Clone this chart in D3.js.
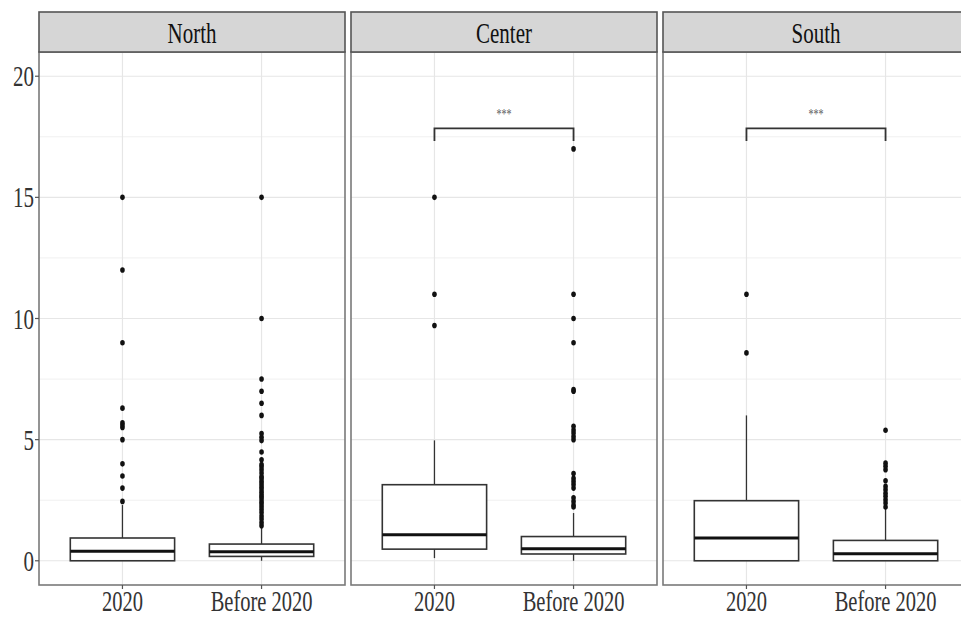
<!DOCTYPE html>
<html><head><meta charset="utf-8">
<script src="https://cdn.jsdelivr.net/npm/d3@7"></script>
<style>html,body{margin:0;padding:0;background:#fff;overflow:hidden}</style>
</head><body>
<script>
// ---------- data ----------
const regions = ["North", "Center", "South"];
const periods = ["2020", "Before 2020"];
const yTicks = [0, 5, 10, 15, 20];
const yMinor = [2.5, 7.5, 12.5, 17.5];
// box statistics [2020, Before 2020] per region
const q1 = [[0, 0.18], [0.48, 0.28], [0, 0]];
const median = [[0.39, 0.37], [1.07, 0.5], [0.94, 0.29]];
const q3 = [[0.94, 0.69], [3.14, 1.0], [2.48, 0.84]];
const whiskerLow = [[0, 0], [0.11, 0], [0, 0]];
const whiskerHigh = [[2.3, 1.42], [4.97, 1.97], [6.0, 2.15]];
const outNorth2020 = [2.45, 3.0, 3.5, 4.0, 5.0, 5.5, 5.6, 5.7, 6.3, 9.0, 12.0, 15.0];
const outNorthBefore = [1.45, 1.58, 1.72, 1.85, 1.99, 2.12, 2.24, 2.35, 2.45, 2.57, 2.66, 2.76, 2.86, 2.97, 3.07, 3.18, 3.28, 3.4, 3.48, 3.62, 3.76, 3.88, 3.97, 4.17, 4.49, 4.96, 5.1, 5.25, 6.0, 6.5, 7.0, 7.5, 10.0, 15.0];
const outCenter2020 = [9.71, 11.0, 15.0];
const outCenterBefore = [2.22, 2.3, 2.45, 2.6, 3.0, 3.15, 3.27, 3.4, 3.6, 5.0, 5.13, 5.27, 5.4, 5.55, 7.0, 7.07, 9.0, 10.0, 11.0, 17.0];
const outSouth2020 = [8.58, 11.0];
const outSouthBefore = [2.22, 2.38, 2.52, 2.66, 2.79, 2.93, 3.07, 3.3, 3.76, 3.9, 4.03, 5.39];
const outliers = [[outNorth2020, outNorthBefore], [outCenter2020, outCenterBefore], [outSouth2020, outSouthBefore]];
const sigRegions = ["Center", "South"];
const sigLabel = "***";
const bracketTop = 17.85;
const bracketLeg = 17.33;
const sigTextY = 18.4;

// ---------- layout ----------
const W = 961, H = 618;
const panelLeft = 39, panelW = 306, gap = 6;
const stripTop = 12, stripBottom = 52, panelBottom = 585;
const FONT = "'Liberation Serif','Times New Roman',serif";
const SY = 1.42;

const svg = d3.select("body").append("svg").attr("width", W).attr("height", H)
  .style("font-family", FONT);

const y = d3.scaleLinear().domain([-1, 21]).range([panelBottom, stripBottom]);

function stext(g, x, yy, str, size, anchor, color) {
  g.append("text").attr("transform", `translate(${x},${yy}) scale(1,${SY})`)
    .attr("text-anchor", anchor).attr("font-size", size).attr("fill", color || "#222").text(str);
}

regions.forEach((reg, ri) => {
  const x0 = panelLeft + ri * (panelW + gap);
  const x = d3.scalePoint().domain(periods).range([x0, x0 + panelW]).padding(0.6);
  const bw = x.step() * 0.75;
  const g = svg.append("g");

  // grid
  g.selectAll(".gmin").data(yMinor).join("line")
    .attr("x1", x0).attr("x2", x0 + panelW).attr("y1", d => y(d)).attr("y2", d => y(d))
    .attr("stroke", "#f0f0f0").attr("stroke-width", 1);
  g.selectAll(".gmaj").data(yTicks).join("line")
    .attr("x1", x0).attr("x2", x0 + panelW).attr("y1", d => y(d)).attr("y2", d => y(d))
    .attr("stroke", "#e6e6e6").attr("stroke-width", 1.2);
  g.selectAll(".gx").data(periods).join("line")
    .attr("x1", d => x(d)).attr("x2", d => x(d)).attr("y1", stripBottom).attr("y2", panelBottom)
    .attr("stroke", "#e6e6e6").attr("stroke-width", 1.2);

  periods.forEach((p, pi) => {
    const cx = x(p);
    // whiskers
    g.append("line").attr("x1", cx).attr("x2", cx).attr("y1", y(q3[ri][pi])).attr("y2", y(whiskerHigh[ri][pi]))
      .attr("stroke", "#333").attr("stroke-width", 1.3);
    g.append("line").attr("x1", cx).attr("x2", cx).attr("y1", y(q1[ri][pi])).attr("y2", y(whiskerLow[ri][pi]))
      .attr("stroke", "#333").attr("stroke-width", 1.3);
    // box
    g.append("rect").attr("x", cx - bw / 2).attr("width", bw)
      .attr("y", y(q3[ri][pi])).attr("height", y(q1[ri][pi]) - y(q3[ri][pi]))
      .attr("fill", "#fff").attr("stroke", "#333").attr("stroke-width", 1.6);
    g.append("line").attr("x1", cx - bw / 2).attr("x2", cx + bw / 2)
      .attr("y1", y(median[ri][pi])).attr("y2", y(median[ri][pi]))
      .attr("stroke", "#111").attr("stroke-width", 3);
    // outliers
    g.selectAll(null).data(outliers[ri][pi]).join("ellipse")
      .attr("cx", cx).attr("cy", d => y(d)).attr("rx", 2.3).attr("ry", 2.8).attr("fill", "#111");
  });

  // significance bracket
  if (sigRegions.includes(reg)) {
    const xa = x(periods[0]), xb = x(periods[1]);
    g.append("path")
      .attr("d", `M${xa},${y(bracketLeg)}V${y(bracketTop)}H${xb}V${y(bracketLeg)}`)
      .attr("fill", "none").attr("stroke", "#333").attr("stroke-width", 1.8);
    stext(g, (xa + xb) / 2, y(sigTextY) + 4, sigLabel, 10, "middle", "#555");
  }

  // panel border
  g.append("rect").attr("x", x0).attr("y", stripBottom).attr("width", panelW).attr("height", panelBottom - stripBottom)
    .attr("fill", "none").attr("stroke", "#7a7a7a").attr("stroke-width", 1.6);
  // strip
  g.append("rect").attr("x", x0).attr("y", stripTop).attr("width", panelW).attr("height", stripBottom - stripTop)
    .attr("fill", "#d6d6d6").attr("stroke", "#555").attr("stroke-width", 1.6);
  stext(g, x0 + panelW / 2, 42.5, reg, 21, "middle", "#111");

  // x axis ticks and labels
  g.selectAll(".xt").data(periods).join("line")
    .attr("x1", d => x(d)).attr("x2", d => x(d)).attr("y1", panelBottom).attr("y2", panelBottom + 4)
    .attr("stroke", "#555").attr("stroke-width", 1.2);
  periods.forEach(p => stext(g, x(p), 611, p, 20.5, "middle", "#333"));

  // y axis on first panel
  if (ri === 0) {
    g.selectAll(".yt").data(yTicks).join("line")
      .attr("x1", x0 - 4).attr("x2", x0).attr("y1", d => y(d)).attr("y2", d => y(d))
      .attr("stroke", "#555").attr("stroke-width", 1.2);
    yTicks.forEach(t => stext(g, x0 - 5, y(t) + 10, String(t), 21, "end", "#333"));
  }
});
</script>
</body></html>
